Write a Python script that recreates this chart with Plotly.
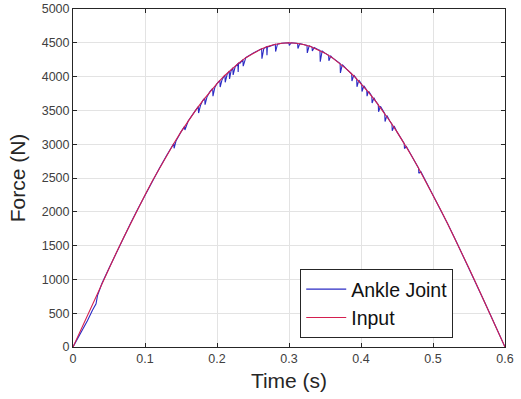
import plotly.graph_objects as go

# Input force profile sampled every 0.01 s
input_t = [round(i * 0.01, 2) for i in range(61)]
input_f = [0, 235, 470, 704, 935, 1165, 1391, 1613, 1830, 2043, 2250,
           2451, 2645, 2832, 3011, 3182, 3344, 3497, 3641, 3774, 3897,
           4009, 4110, 4200, 4280, 4347, 4401, 4445, 4476, 4494, 4500,
           4494, 4476, 4445, 4401, 4347, 4280, 4200, 4110, 4009, 3897,
           3774, 3641, 3497, 3344, 3182, 3011, 2832, 2645, 2451, 2250,
           2043, 1830, 1613, 1391, 1165, 935, 704, 470, 235, 0]

# Ankle joint response: start-up lag then follows the input with short dips
ankle_start_t = [0.0, 0.01, 0.02, 0.027, 0.032, 0.034]
ankle_start_f = [0, 190, 390, 545, 640, 760]

dip_t = [0.140, 0.155, 0.174, 0.183, 0.194, 0.204, 0.211, 0.217, 0.222,
         0.229, 0.236, 0.262, 0.269, 0.281, 0.300, 0.312, 0.325, 0.332,
         0.343, 0.355, 0.371, 0.387, 0.394, 0.401, 0.408, 0.415, 0.424,
         0.433, 0.443, 0.460, 0.480]
dip_top = [3011, 3264, 3556, 3681, 3825, 3943, 4020, 4082, 4130,
           4193, 4250, 4411, 4441, 4478, 4500, 4491, 4461, 4437,
           4387, 4315, 4193, 4041, 3966, 3885, 3799, 3709, 3584,
           3452, 3296, 3011, 2645]
dip_low = [2940, 3210, 3460, 3585, 3710, 3845, 3915, 3965, 4025,
           4070, 4155, 4265, 4315, 4370, 4460, 4415, 4350, 4380,
           4220, 4235, 4055, 3935, 3850, 3780, 3710, 3610, 3480,
           3335, 3200, 2935, 2570]
dip_end_t = [0.143, 0.158, 0.177, 0.186, 0.197, 0.207, 0.214, 0.220, 0.225,
             0.232, 0.239, 0.265, 0.272, 0.284, 0.303, 0.315, 0.328, 0.335,
             0.346, 0.358, 0.374, 0.390, 0.397, 0.404, 0.411, 0.418, 0.427,
             0.436, 0.446, 0.463, 0.483]
dip_end_f = [3046, 3293, 3572, 3697, 3839, 3954, 4031, 4092, 4138,
             4200, 4256, 4415, 4444, 4479, 4500, 4488, 4456, 4431,
             4378, 4304, 4177, 4023, 3947, 3865, 3778, 3687, 3560,
             3426, 3268, 2968, 2598]

pts = list(zip(ankle_start_t, ankle_start_f))
pts += [(t, f) for t, f in zip(input_t, input_f) if t > 0.034]
for t0, ftop, flow, t1, f1 in zip(dip_t, dip_top, dip_low, dip_end_t, dip_end_f):
    pts += [(t0, ftop), (t0 + 0.0004, flow), (t1, f1)]
pts.sort(key=lambda p: p[0])
ankle_t = [p[0] for p in pts]
ankle_f = [p[1] for p in pts]

x_ticks = [0, 0.1, 0.2, 0.3, 0.4, 0.5, 0.6]
x_labels = ["0", "0.1", "0.2", "0.3", "0.4", "0.5", "0.6"]
y_ticks = list(range(0, 5001, 500))

FONT = "Liberation Sans, Arial"

fig = go.Figure()
fig.add_trace(go.Scatter(x=ankle_t, y=ankle_f, mode="lines", name="Ankle Joint",
                         line=dict(color="#2b2bc4", width=1.1)))
fig.add_trace(go.Scatter(x=input_t, y=input_f, mode="lines", name="Input",
                         line=dict(color="#d41f4f", width=1.1)))

axis_common = dict(showline=True, linecolor="#262626", linewidth=1, mirror="ticks",
                   ticks="inside", ticklen=4, tickcolor="#262626",
                   showgrid=True, gridcolor="#e3e3e3", gridwidth=1,
                   zeroline=False, automargin=False,
                   tickfont=dict(family=FONT, size=12.5, color="#404040"))

fig.update_layout(
    width=521, height=399,
    margin=dict(l=73, r=16, t=9, b=52),
    paper_bgcolor="white", plot_bgcolor="white",
    xaxis=dict(range=[0, 0.6], tickvals=x_ticks, ticktext=x_labels,
               title=dict(text="Time (s)", font=dict(family=FONT, size=21, color="#262626"), standoff=8),
               **axis_common),
    yaxis=dict(range=[0, 5000], tickvals=y_ticks,
               title=dict(text="Force (N)", font=dict(family=FONT, size=21, color="#262626"), standoff=10),
               **axis_common),
    legend=dict(x=0.526, y=0.231, xanchor="left", yanchor="top",
                bgcolor="white", bordercolor="#262626", borderwidth=1,
                font=dict(family=FONT, size=19.5, color="#111111"),
                itemwidth=40, tracegroupgap=0),
    showlegend=True,
)

fig.write_html("out.html")
